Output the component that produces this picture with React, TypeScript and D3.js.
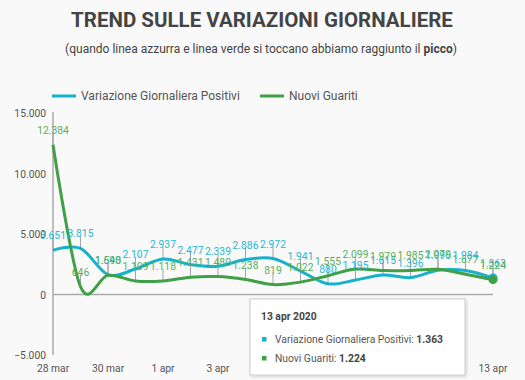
import React from "react";
import * as d3 from "d3";

const dates = ["28 mar","29 mar","30 mar","31 mar","1 apr","2 apr","3 apr","4 apr","5 apr","6 apr","7 apr","8 apr","9 apr","10 apr","11 apr","12 apr","13 apr"];
const positivi = [3651,3815,1648,2107,2937,2477,2339,2886,2972,1941,880,1195,1615,1396,1996,1984,1363];
const guariti = [12384,646,1590,1109,1118,1431,1480,1238,819,1022,1555,2099,1979,1985,2079,1677,1224];
const yTicks = [-5000, 0, 5000, 10000, 15000];
const seriesNames = ["Variazione Giornaliera Positivi", "Nuovi Guariti"];
const tooltipTitle = "13 apr 2020";

const W = 525, H = 380;
const BLUE = "#17b1cb";
const GREEN = "#3fa046";
const BLUE_LBL = "#2ab7cf";
const GREEN_LBL = "#55b05a";
const FONT = "Roboto, 'Noto Sans', sans-serif";
const SMALL = 10.3;

const locale = d3.formatLocale({ decimal: ",", thousands: ".", grouping: [3], currency: ["€", ""] });
const fmt = locale.format(",d");

export default function App() {
  const x = d3.scaleLinear().domain([0, dates.length - 1]).range([53, 493]);
  const y = d3.scaleLinear().domain([-5000, 15000]).range([355, 113]);
  const line = d3.line<number>().x((_, i) => x(i)).y((d) => y(d)).curve(d3.curveCardinal.tension(0));
  const series = [
    { name: seriesNames[0], data: positivi, color: BLUE, lbl: BLUE_LBL },
    { name: seriesNames[1], data: guariti, color: GREEN, lbl: GREEN_LBL },
  ];
  const last = dates.length - 1;
  return (
    <svg width={W} height={H} style={{ position: "absolute", left: 0, top: 0, fontFamily: FONT }}>
      <defs>
        <filter id="sh" x="-10%" y="-10%" width="130%" height="140%">
          <feDropShadow dx="1" dy="1" stdDeviation="1.5" floodColor="#000" floodOpacity="0.18" />
        </filter>
      </defs>
      <rect width={W} height={H} fill="#f9f9f9" />
      <text x={262} y={27} textAnchor="middle" fontSize={20.5} fontWeight="bold" fill="#444">TREND SULLE VARIAZIONI GIORNALIERE</text>
      <text x={261} y={53} textAnchor="middle" fontSize={12} fill="#444">
        (quando linea azzurra e linea verde si toccano abbiamo raggiunto il <tspan fontWeight="bold">picco</tspan>)
      </text>
      {/* legend */}
      <line x1={52} x2={76} y1={96} y2={96} stroke={BLUE} strokeWidth={3} />
      <text x={81} y={100} fontSize={12} fill="#555">{seriesNames[0]}</text>
      <line x1={260} x2={284} y1={96} y2={96} stroke={GREEN} strokeWidth={3} />
      <text x={289} y={100} fontSize={12} fill="#555">{seriesNames[1]}</text>
      {/* y axis */}
      {yTicks.map((t) => (
        <text key={t} x={46} y={y(t) + 4} textAnchor="end" fontSize={SMALL} fill="#555">{fmt(t)}</text>
      ))}
      <line x1={53} x2={53} y1={112} y2={355} stroke="#aaa" strokeWidth={1.5} />
      <line x1={53} x2={493} y1={y(0)} y2={y(0)} stroke="#aaa" strokeWidth={1.5} />
      {/* x labels */}
      {dates.map((d, i) => (i % 2 === 0 ? (
        <text key={d} x={x(i)} y={372} textAnchor="middle" fontSize={SMALL} fill="#555">{d}</text>
      ) : null))}
      {/* stems */}
      {series.map((s) => s.data.map((v, i) => (
        <line key={s.name + i} x1={x(i)} x2={x(i)} y1={y(v)} y2={y(v) - 12} stroke="#a5a5a5" strokeWidth={1} />
      )))}
      {/* lines */}
      {series.map((s) => (
        <path key={s.name} d={line(s.data) || ""} fill="none" stroke={s.color} strokeWidth={3} />
      ))}
      {/* annotations */}
      {series.map((s) => s.data.map((v, i) => (
        <text key={s.name + "l" + i} x={x(i)} y={y(v) - 11} textAnchor="middle" fontSize={SMALL} fill={s.lbl}>{fmt(v)}</text>
      )))}
      {/* hover dots */}
      {series.map((s) => (
        <circle key={s.name + "dot"} cx={x(last)} cy={y(s.data[last])} r={4.5} fill={s.color} />
      ))}
      {/* tooltip */}
      <g>
        <rect x={250} y={299} width={215} height={76} fill="#fff" stroke="#ccc" strokeWidth={1} filter="url(#sh)" />
        <text x={261} y={320} fontSize={SMALL} fontWeight="bold" fill="#444">{tooltipTitle}</text>
        {series.map((s, k) => (
          <g key={s.name + "tt"}>
            <rect x={262} y={337 + k * 19} width={4.5} height={4.5} fill={s.color} />
            <text x={275} y={343 + k * 19} fontSize={SMALL} fill="#555">
              {s.name}: <tspan fontWeight="bold" fill="#444">{fmt(s.data[last])}</tspan>
            </text>
          </g>
        ))}
      </g>
    </svg>
  );
}
